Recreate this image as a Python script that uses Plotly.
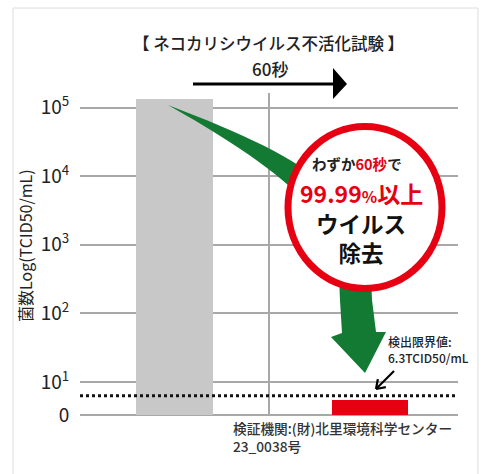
import math
import plotly.graph_objects as go

# ---- data ----
categories = ["処理前", "60秒後"]
log_titer = [5.12, 0.74]          # log10 TCID50/mL (bar tops)
detection_limit = 6.3             # TCID50/mL
axis_floor = 0.52                 # "0" baseline on the log scale
tick_vals = [axis_floor, 1, 2, 3, 4, 5]
tick_text = ["0", "10<sup>1</sup>", "10<sup>2</sup>", "10<sup>3</sup>", "10<sup>4</sup>", "10<sup>5</sup>"]
bar_colors = ["#c8c8c8", "#e60012"]

FONT = "Noto Sans CJK JP"
RED = "#e60012"
GREEN = "#137a33"

W, H = 486, 474
L, R, T, B = 80, 28, 80, 44


def PX(x):
    return (x - L) / (W - L - R)


def PY(y):
    return (H - B - y) / (H - T - B)


fig = go.Figure()
fig.add_trace(go.Bar(
    x=categories,
    y=[v - axis_floor for v in log_titer],
    base=axis_floor,
    width=0.39,
    marker=dict(color=bar_colors, line=dict(width=0)),
    hoverinfo="skip",
))

shapes = []
# outer frame
shapes.append(dict(type="rect", xref="paper", yref="paper",
                   x0=PX(13), x1=PX(478), y0=PY(8), y1=PY(490),
                   line=dict(color="#dcdcdc", width=1), layer="below"))
# vertical grid line between the bars
shapes.append(dict(type="line", xref="paper", yref="paper",
                   x0=PX(269), x1=PX(269), y0=PY(93), y1=PY(415),
                   line=dict(color="#a8a8a8", width=2), layer="below"))
# detection-limit dotted line
dl = math.log10(detection_limit)
shapes.append(dict(type="line", xref="paper", yref="y",
                   x0=0.0, x1=PX(455), y0=dl, y1=dl,
                   line=dict(color="#111111", width=3, dash="dot"), layer="above"))


def P(x, y):
    return f"{PX(x):.5f},{PY(y):.5f}"


# green curved arrow
green = (f"M {P(168,105)} C {P(320,163)} {P(372,200)} {P(372,300)} "
         f"L {P(376,332)} L {P(386,332)} L {P(365,373)} L {P(331,337)} "
         f"L {P(342,333)} L {P(340,300)} C {P(340,230)} {P(320,191)} {P(168,105)} Z")
shapes.append(dict(type="path", xref="paper", yref="paper", path=green,
                   fillcolor=GREEN, line=dict(width=0), layer="above"))
# red circle
cx, cy, rx, ry = 365, 207.5, 77, 81
shapes.append(dict(type="circle", xref="paper", yref="paper",
                   x0=PX(cx - rx), x1=PX(cx + rx), y0=PY(cy + ry), y1=PY(cy - ry),
                   fillcolor="white", line=dict(color=RED, width=7), layer="above"))
# top black arrow
shapes.append(dict(type="line", xref="paper", yref="paper",
                   x0=PX(193), x1=PX(336), y0=PY(84), y1=PY(84),
                   line=dict(color="black", width=3), layer="above"))
shapes.append(dict(type="path", xref="paper", yref="paper",
                   path=f"M {P(333,68)} L {P(347,84)} L {P(333,99)} Z",
                   fillcolor="black", line=dict(width=0), layer="above"))
# small detection arrow
tx, ty = 376, 389
sx, sy = 394, 371
shapes.append(dict(type="line", xref="paper", yref="paper",
                   x0=PX(sx), x1=PX(tx + 1), y0=PY(sy), y1=PY(ty - 1),
                   line=dict(color="black", width=2.2), layer="above"))
ang = math.atan2(sy - ty, sx - tx)
for d in (-0.6, 0.6):
    a = ang + d
    shapes.append(dict(type="line", xref="paper", yref="paper",
                       x0=PX(tx), y0=PY(ty),
                       x1=PX(tx + 10 * math.cos(a)), y1=PY(ty + 10 * math.sin(a)),
                       line=dict(color="black", width=2.2), layer="above"))

annotations = []


def note(text, x, y, size, color="#222222", xanchor="center", weight="normal", angle=0, align="left"):
    annotations.append(dict(text=text, xref="paper", yref="paper",
                            x=PX(x), y=PY(y), xanchor=xanchor, yanchor="middle",
                            showarrow=False, textangle=angle, align=align,
                            font=dict(family=FONT, size=size, color=color, weight=weight)))


note("【 ネコカリシウイルス不活化試験 】", 268, 43, 16.5, weight=500)
note("60秒", 270, 68, 17, weight=500)
note("菌数Log(TCID50/mL)", 25, 246, 16, angle=-90)
note(f"わずか<span style='color:{RED}'>60秒</span>で", 357, 163, 14.5, weight="bold")
note(f"<span style='color:{RED}'>99.99<span style='font-size:16px'>%</span>以上</span>",
     361, 193, 23, color=RED, weight="bold")
note("ウイルス<br>除去", 361, 237.5, 22.5, color="#111111", weight="bold", align="center")
note("検出限界値:<br>6.3TCID50/mL", 386, 349, 12, xanchor="left", weight=500)
note("検証機関:(財)北里環境科学センター<br>23_0038号", 231, 437, 13.7,
     color="#333333", xanchor="left", weight=500)

fig.update_layout(
    width=W, height=H, autosize=False,
    margin=dict(l=L, r=R, t=T, b=B, pad=0),
    paper_bgcolor="white", plot_bgcolor="white",
    showlegend=False,
    bargap=0,
    font=dict(family=FONT),
    shapes=shapes,
    annotations=annotations,
    xaxis=dict(type="category", range=[-0.483, 1.45], showgrid=False,
               showticklabels=False, zeroline=False, showline=False, ticks=""),
    yaxis=dict(range=[0.30, 5.402], tickmode="array", tickvals=tick_vals,
               ticktext=tick_text, showgrid=True, gridcolor="#a8a8a8", gridwidth=2,
               zeroline=False, showline=False, ticks="outside", ticklen=6,
               tickcolor="rgba(0,0,0,0)",
               tickfont=dict(family=FONT, size=19, color="#222222")),
)

fig.write_html("out.html", config={"displayModeBar": False},
               post_script="document.body.style.margin='0';")
